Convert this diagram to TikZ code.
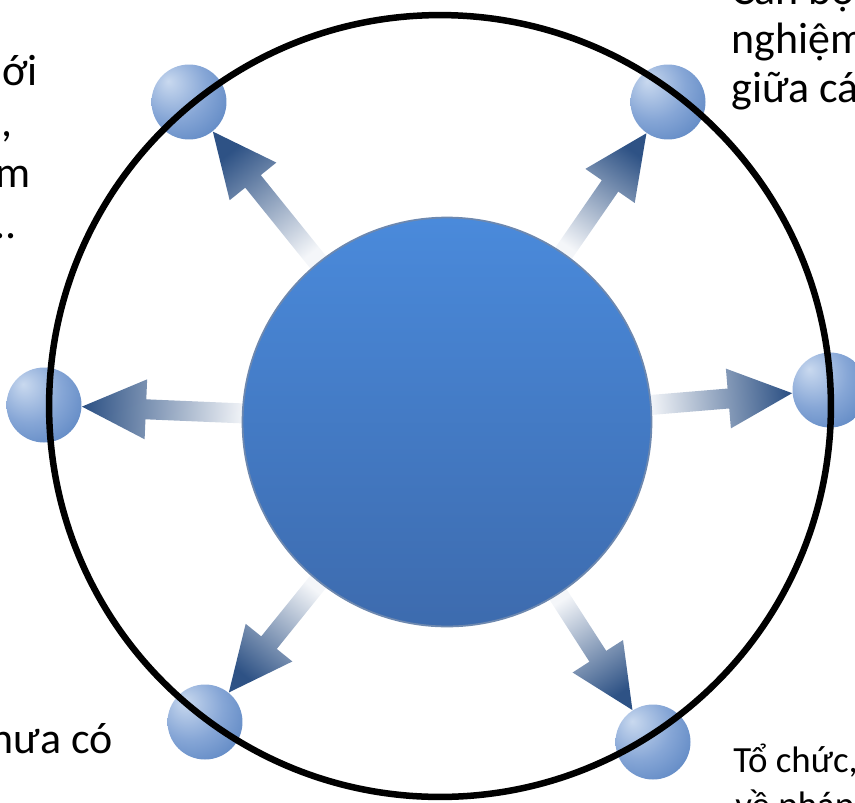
\documentclass[tikz,border=0pt]{standalone}
\usepackage{fontspec}
\setmainfont{Carlito}
\usetikzlibrary{calc,backgrounds}

\definecolor{hubtop}{HTML}{4A8ADB}
\definecolor{hubbot}{HTML}{3D6BAE}
\definecolor{hubrim}{HTML}{2F558C}
\definecolor{sphhi}{HTML}{C9D9EF}
\definecolor{sphmid}{HTML}{86A6D6}
\definecolor{sphlo}{HTML}{4A78BA}
\definecolor{arrtip}{HTML}{2E5285}
\definecolor{arrtail}{HTML}{F4F6F9}

\pgfdeclareradialshading{sphereshade}{\pgfpoint{-14bp}{14bp}}{%
  color(0bp)=(sphhi); color(22bp)=(sphmid); color(48bp)=(sphlo); color(80bp)=(sphlo)}

\tikzset{
  hub/.style={circle, minimum size=8.18cm, inner sep=0, top color=hubtop, bottom color=hubbot, draw=hubrim!70, line width=1pt},
  ball/.style={circle, minimum size=1.5cm, inner sep=0, shading=sphereshade},
  lbl/.style={inner sep=0, font=\fontsize{25}{30}\selectfont},
  lblsmall/.style={inner sep=0, font=\fontsize{21}{25}\selectfont}
}

% shaded arrow from the hub rim to a ball: from, to, shading angle
\newcommand\gradarrow[3]{%
  \coordinate (s) at ($(#1.center)!4.0cm!(#2.center)$);
  \coordinate (t) at ($(#2.center)!0.76cm!(#1.center)$);
  \coordinate (b) at ($(t)!1.28cm!(s)$);
  \shade[top color=arrtip, bottom color=arrtail, shading angle=#3]
    ($(s)!0.2cm!90:(t)$) -- ($(b)!0.2cm!90:(t)$) -- ($(b)!0.6cm!90:(t)$) -- (t)
    -- ($(b)!0.6cm!-90:(t)$) -- ($(b)!0.2cm!-90:(t)$) -- ($(s)!0.2cm!-90:(t)$) -- cycle;
}

\begin{document}
\begin{tikzpicture}[x=0.02cm, y=-0.02cm]
  \useasboundingbox (0,0) rectangle (855,802);
  \clip (0,0) rectangle (855,802);

  \node[hub] (hub) at (447,422) {};

  \node[ball] (tl) at (189,102) {};
  \node[ball] (tr) at (668,102) {};
  \node[ball] (lf) at (44,405) {};
  \node[ball] (rt) at (830,390) {};
  \node[ball] (bl) at (205,722) {};
  \node[ball] (br) at (653,742) {};

  \draw[line width=0.13cm] (440,406) circle [radius=7.82cm];

  \begin{pgfonlayer}{background}
    \gradarrow{hub}{tl}{38.9}
    \gradarrow{hub}{tr}{-34.6}
    \gradarrow{hub}{lf}{87.6}
    \gradarrow{hub}{rt}{-85.2}
    \gradarrow{hub}{bl}{141.1}
    \gradarrow{hub}{br}{-147.2}
  \end{pgfonlayer}

  % cut-off captions
  \node[lbl, anchor=base east] (l1) at (38,85) {ới};
  \node[lbl, anchor=base east] (l2) at (13,136) {,};
  \node[lbl, anchor=base east] (l3) at (31,187) {m};
  \node[lbl, anchor=base east] (l4) at (17,238) {..};

  \node[lbl, anchor=base west] (r1) at (731,4) {Cán bộ};
  \node[lbl, anchor=base west] (r2) at (731,53) {nghiệm};
  \node[lbl, anchor=base west] (r3) at (731,102) {giữa cá};

  \node[lbl, anchor=base east] (b1) at (113,753) {hưa có};

  \node[lblsmall, anchor=base west] (c1) at (733,772) {Tổ chức,};
  \node[lblsmall, anchor=base west] (c2) at (735,817) {về pháp};
\end{tikzpicture}
\end{document}
